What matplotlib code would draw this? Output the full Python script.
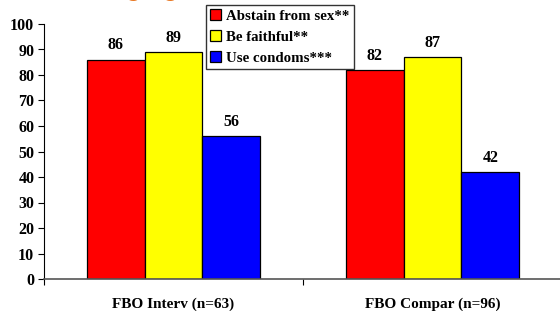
import matplotlib.pyplot as plt
import numpy as np

groups = ["FBO Interv (n=63)", "FBO Compar (n=96)"]
series = ["Abstain from sex**", "Be faithful**", "Use condoms***"]
abstain = [86, 82]
faithful = [89, 87]
condoms = [56, 42]
yticks = [0, 10, 20, 30, 40, 50, 60, 70, 80, 90, 100]

COLORS = ["#FF0000", "#FFFF00", "#0000FF"]
SERIF = ["Liberation Serif", "DejaVu Serif"]

plt.rcParams["font.family"] = SERIF
plt.rcParams["font.weight"] = "bold"

fig = plt.figure(figsize=(5.6, 3.11), dpi=100)
W, H = 560, 311
ax = fig.add_axes([44 / W, (H - 279) / H, 518 / W, 255 / H])

x = np.arange(len(groups))
bw = 0.223
for i, (vals, col, name) in enumerate(zip([abstain, faithful, condoms], COLORS, series)):
    pos = x + (i - 1) * bw
    ax.bar(pos, vals, width=bw, color=col, edgecolor="black", linewidth=0.9,
           label=name, zorder=2)
    for p, v in zip(pos, vals):
        ax.text(p, v + 2.5, f"{v}", ha="center", va="bottom",
                fontsize=11.5, fontweight="bold", zorder=1)

ax.set_xlim(-0.5, 1.5)
ax.set_ylim(0, 100)
ax.set_yticks(yticks)
ax.set_yticklabels([str(t) for t in yticks], fontsize=11.5, fontweight="bold")
ax.set_xticks([-0.5, 0.5, 1.5])
ax.set_xticklabels([])
ax.set_xticks(x, minor=True)
ax.set_xticklabels(groups, minor=True, fontsize=11, fontweight="bold")
ax.tick_params(axis="x", which="minor", length=0, pad=13)
ax.tick_params(axis="x", which="major", length=4, direction="out", color="black")
ax.tick_params(axis="y", length=4, direction="out", pad=3)

for s in ("top", "right"):
    ax.spines[s].set_visible(False)
ax.spines["left"].set_color("black")
ax.spines["bottom"].set_color("#555555")
ax.spines["bottom"].set_linewidth(1.2)

leg = ax.legend(loc="upper left", bbox_to_anchor=(206 / W, 1 - 5 / H),
                bbox_transform=fig.transFigure, frameon=True, fancybox=False,
                prop={"family": SERIF, "weight": "bold", "size": 10.7},
                handlelength=0.7, handleheight=0.7, handletextpad=0.35,
                labelspacing=0.5, borderpad=0.3, borderaxespad=0)
leg.get_frame().set_edgecolor("black")
leg.get_frame().set_linewidth(1.0)
leg.set_zorder(5)

# orange heading cut off at the top edge
fig.text(126 / W, 1 + 4 / H, "g", color="#E87722", fontsize=18,
         family=["Liberation Sans", "DejaVu Sans"], va="baseline")
fig.text(163 / W, 1 + 4 / H, "g", color="#E87722", fontsize=18,
         family=["Liberation Sans", "DejaVu Sans"], va="baseline")

fig.savefig("out.png", dpi=100)
